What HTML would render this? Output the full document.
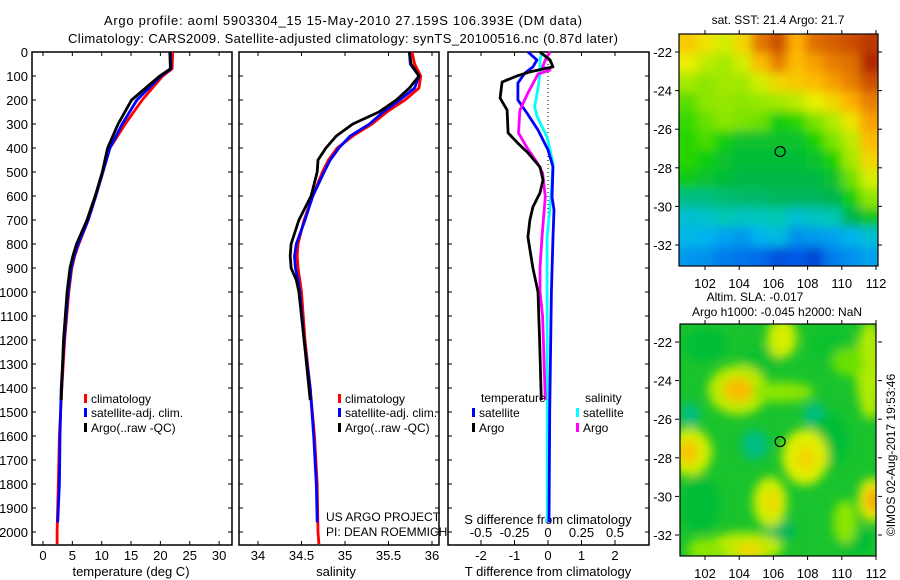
<!DOCTYPE html>
<html><head><meta charset="utf-8"><style>
body{margin:0;background:#fff;}
svg{display:block;font-family:"Liberation Sans",sans-serif;}
</style></head><body>
<svg id="s" width="900" height="580" viewBox="0 0 900 580" xmlns="http://www.w3.org/2000/svg">
<defs>
<filter id="bl1" x="-5%" y="-5%" width="110%" height="110%"><feGaussianBlur stdDeviation="5"/></filter>
<filter id="bl2" x="-20%" y="-20%" width="140%" height="140%"><feGaussianBlur stdDeviation="5"/></filter>
<clipPath id="c1"><rect x="679" y="34" width="199" height="232"/></clipPath>
<clipPath id="c2"><rect x="680" y="324" width="196" height="232"/></clipPath>
</defs>
<text x="343" y="25" text-anchor="middle" font-size="13" textLength="478">Argo profile: aoml 5903304_15 15-May-2010 27.159S 106.393E (DM data)</text>
<text x="343" y="43" text-anchor="middle" font-size="13" textLength="550">Climatology: CARS2009. Satellite-adjusted climatology: synTS_20100516.nc (0.87d later)</text>
<g id="g"></g>
</svg>
<script>
// ---- data ----
const depthTicks=[0,100,200,300,400,500,600,700,800,900,1000,1100,1200,1300,1400,1500,1600,1700,1800,1900,2000];
const tTicks=[0,5,10,15,20,25,30];
const sTicks=[34,34.5,35,35.5,36];
const sTickLabels=["34","34.5","35","35.5","36"];
const dTTicks=[-2,-1,0,1,2];
const dSTicks=[-0.5,-0.25,0,0.25,0.5];
const dSTickLabels=["-0.5","-0.25","0","0.25","0.5"];
// temperature
const tClimDepth=[0,70,100,200,300,400,500,600,700,800,850,900,1000,1200,1400,1600,1800,2000,2050];
const tClim=[22.1,22,20.4,16.9,14,11.4,10.2,9,7.7,6.1,5.4,4.9,4.4,3.7,3.2,2.8,2.6,2.4,2.4];
const tSatDepth=[0,70,100,200,300,400,500,600,700,800,850,900,1000,1200,1400,1600,1800,1960];
const tSat=[21.7,21.8,20.1,16,13.5,11.4,10.2,9,7.7,6,5.3,4.8,4.3,3.6,3.1,2.9,2.8,2.5];
const tArgoDepth=[0,70,100,200,300,400,500,600,700,800,850,900,1000,1200,1450];
const tArgo=[21.6,21.7,19.9,15.1,12.8,11,10.1,8.9,7.5,5.7,5.1,4.6,4.1,3.5,3.1];
// salinity
const sClimDepth=[0,50,100,150,200,250,300,350,400,450,500,600,700,800,850,900,950,1000,1200,1400,1600,1800,2000,2050];
const sClim=[35.77,35.8,35.87,35.85,35.69,35.48,35.31,35.09,34.91,34.81,34.74,34.63,34.53,34.46,34.45,34.46,34.48,34.5,34.54,34.6,34.65,34.68,34.69,34.7];
const sSatDepth=[0,50,100,150,200,250,300,350,400,450,500,600,700,800,850,900,950,1000,1200,1400,1600,1800,1960];
const sSat=[35.74,35.75,35.85,35.8,35.63,35.44,35.28,35.06,34.93,34.83,34.76,34.63,34.54,34.44,34.42,34.43,34.46,34.48,34.53,34.6,34.64,34.67,34.68];
const sArgoDepth=[0,50,100,150,200,250,300,350,400,450,500,600,700,800,850,900,950,1000,1200,1450];
const sArgo=[35.74,35.76,35.85,35.74,35.59,35.39,35.09,34.9,34.78,34.69,34.68,34.61,34.47,34.38,34.37,34.38,34.44,34.47,34.53,34.6];
// differences
const dTArgoDepth=[0,33,62,83,100,125,192,242,337,380,420,479,533,587,646,700,771,900,1000,1200,1450];
const dTArgo=[-0.24,0.06,0.15,-0.54,-0.93,-1.37,-1.43,-1.22,-1.19,-0.9,-0.6,-0.24,-0.15,-0.24,-0.45,-0.54,-0.6,-0.45,-0.3,-0.25,-0.2];
const dTSatDepth=[0,33,62,88,129,200,254,325,408,479,604,658,771,1000,1500,1960];
const dTSat=[-0.6,-0.33,-0.45,-0.69,-0.9,-0.9,-0.63,-0.3,0,0.15,0.12,0.18,0.15,0.1,0.05,0.03];
const dSArgoDepth=[0,33,62,75,92,171,242,337,396,462,504,604,771,900,1000,1100,1450];
const dSArgo=[0.015,-0.02,-0.04,0.015,-0.075,-0.15,-0.21,-0.22,-0.16,-0.08,-0.04,-0.02,-0.045,-0.06,-0.06,-0.04,-0.02];
const dSSatDepth=[0,33,88,150,229,270,354,462,533,646,771,1000,1500,1960];
const dSSat=[-0.045,-0.06,-0.06,-0.075,-0.1,-0.08,-0.007,0.037,0.03,0.015,-0.007,-0.007,-0.005,-0.005];
// map grids (normalized colour values)
const sstGrid=[
[.74,.70,.66,.72,.85,.90,.78,.86,.88,.90,.93],
[.68,.64,.62,.66,.76,.84,.76,.80,.84,.86,.95],
[.62,.60,.62,.62,.66,.72,.74,.76,.80,.84,.90],
[.57,.60,.61,.60,.61,.62,.64,.68,.72,.78,.84],
[.55,.58,.60,.59,.58,.52,.54,.59,.63,.70,.80],
[.54,.56,.52,.49,.49,.49,.49,.53,.59,.64,.76],
[.54,.52,.49,.48,.48,.48,.48,.49,.53,.62,.72],
[.51,.49,.48,.47,.47,.47,.47,.47,.49,.58,.66],
[.42,.42,.43,.44,.44,.45,.45,.45,.46,.52,.60],
[.34,.35,.38,.36,.37,.38,.34,.36,.38,.46,.50],
[.31,.30,.28,.27,.30,.32,.26,.27,.28,.30,.34],
[.27,.26,.24,.23,.22,.18,.20,.16,.24,.26,.28]];

// ---- drawing ----
const NS="http://www.w3.org/2000/svg";
const G=document.getElementById('g');
function el(tag,attrs,parent){const e=document.createElementNS(NS,tag);for(const k in attrs)e.setAttribute(k,attrs[k]);(parent||G).appendChild(e);return e;}
function txt(x,y,s,size,anchor,parent){const t=el('text',{x:x,y:y,'font-size':size,'text-anchor':anchor||'start'},parent);t.textContent=s;return t;}
const Y=d=>52+0.24*d;
const xT=v=>43+v*5.87;
const xS=v=>258+(v-34)*87;
const xDT=v=>548+v*33.5;
const xDS=v=>548+v*134;
const TOP=52,BOT=545;
const panels=[[32,232],[239,439],[448,649]];
panels.forEach((p,i)=>{
  const r=el('rect',{x:p[0],y:TOP,width:p[1]-p[0],height:BOT-TOP,fill:'none',stroke:'#000','stroke-width':1.5});
  
  
  depthTicks.forEach(d=>{
    el('line',{x1:p[0],x2:p[0]+4,y1:Y(d),y2:Y(d),stroke:'#000'});
    el('line',{x1:p[1],x2:p[1]-4,y1:Y(d),y2:Y(d),stroke:'#000'});
  });
});
depthTicks.forEach(d=>{
  const t=txt(28,Y(d)+5,String(d),13,'end');
  
  
});
function xTicks(vals,labels,fx,ly){
  vals.forEach((v,i)=>{
    const x=fx(v);
    el('line',{x1:x,x2:x,y1:BOT,y2:BOT-4,stroke:'#000'});
    el('line',{x1:x,x2:x,y1:TOP,y2:TOP+4,stroke:'#000'});
    const t=txt(x,ly,labels[i],13,'middle');
    
    
  });
}
xTicks(tTicks,tTicks.map(String),xT,560);
xTicks(sTicks,sTickLabels,xS,560);
xTicks(dTTicks,dTTicks.map(String),xDT,560);
dSTicks.forEach((v,i)=>{
  const x=xDS(v);
  el('line',{x1:x,x2:x,y1:540,y2:544,stroke:'#000'});
  const t=txt(x,537,dSTickLabels[i],13,'middle');
  
  
});
[['temperature (deg C)',131,576,'x-axis-title-temperature'],['salinity',336,576,'x-axis-title-salinity'],['T difference from climatology',548,576,'x-axis-title-t-diff'],['S difference from climatology',548,524,'axis-title-s-diff']].forEach(a=>{
  const t=txt(a[1],a[2],a[0],13,'middle');
  
  
});
// zero line
const zl=el('line',{x1:548,x2:548,y1:TOP,y2:310,stroke:'#000','stroke-dasharray':'1 3'});


function series(depths,vals,fx,color,name){
  const pts=depths.map((d,i)=>fx(vals[i]).toFixed(1)+','+Y(d).toFixed(1)).join(' ');
  const pl=el('polyline',{points:pts,fill:'none',stroke:color,'stroke-width':2.8,'stroke-linejoin':'round'});
  
  
}
series(tClimDepth,tClim,xT,'#ff0000','temperature-climatology-line');
series(tSatDepth,tSat,xT,'#0000ff','temperature-satellite-line');
series(tArgoDepth,tArgo,xT,'#000000','temperature-argo-line');
series(sClimDepth,sClim,xS,'#ff0000','salinity-climatology-line');
series(sSatDepth,sSat,xS,'#0000ff','salinity-satellite-line');
series(sArgoDepth,sArgo,xS,'#000000','salinity-argo-line');
series(dSSatDepth,dSSat,xDS,'#00ffff','s-diff-satellite-line');
series(dTSatDepth,dTSat,xDT,'#0000ff','t-diff-satellite-line');
series(dSArgoDepth,dSArgo,xDS,'#ff00ff','s-diff-argo-line');
series(dTArgoDepth,dTArgo,xDT,'#000000','t-diff-argo-line');
// legends
function legend(x,y,color,label,name){
  const b=el('rect',{x:x,y:y-8,width:3,height:9,fill:color});
  
  
  const t=txt(x+7,y+1,label,12);
  
  
}
legend(84,402,'#ff0000','climatology','legend-t-climatology');
legend(84,416,'#0000ff','satellite-adj. clim.','legend-t-satellite');
legend(84,431,'#000000','Argo(..raw -QC)','legend-t-argo');
legend(338,402,'#ff0000','climatology','legend-s-climatology');
legend(338,416,'#0000ff','satellite-adj. clim.','legend-s-satellite');
legend(338,431,'#000000','Argo(..raw -QC)','legend-s-argo');
let t1=txt(481,402,'temperature',12);
let t2=txt(585,402,'salinity',12);
legend(472,416,'#0000ff','satellite','legend-dt-satellite');
legend(472,431,'#000000','Argo','legend-dt-argo');
legend(576,416,'#00ffff','satellite','legend-ds-satellite');
legend(576,431,'#ff00ff','Argo','legend-ds-argo');
let p1=txt(326,521,'US ARGO PROJECT',12);
let p2=txt(326,536,'PI: DEAN ROEMMICH',12);

// ---- maps ----
const stops=[[0,[0,0,140]],[.2,[0,90,230]],[.3,[0,180,240]],[.38,[0,200,180]],[.46,[0,180,80]],[.53,[20,210,0]],[.6,[140,230,0]],[.68,[235,240,0]],[.78,[255,175,0]],[.88,[215,95,0]],[1,[150,0,0]]];
function cmap(v){for(let i=1;i<stops.length;i++){if(v<=stops[i][0]){const a=stops[i-1],b=stops[i],f=(v-a[0])/(b[0]-a[0]);return 'rgb('+a[1].map((c,k)=>Math.round(c+(b[1][k]-c)*f)).join(',')+')';}}return 'rgb(150,0,0)';}
const lonX1=l=>705+(l-102)*17.1;
const latY1=l=>52+(-22-l)*19.3;
const m1=el('g',{'clip-path':'url(#c1)'});


const m1i=el('g',{filter:'url(#bl1)'},m1);
const rows=sstGrid.length,cols=sstGrid[0].length;
const cw=199/cols,ch=232/rows;
sstGrid.forEach((row,r)=>row.forEach((v,c)=>{
  el('rect',{x:679+c*cw-(c==0?8:0),y:34+r*ch-(r==0?8:0),width:cw+1+(c==0||c==cols-1?8:0),height:ch+1+(r==0||r==rows-1?8:0),fill:cmap(v)},m1i);
}));
// map2 SLA
const m2=el('g',{'clip-path':'url(#c2)'});


el('rect',{x:680,y:324,width:196,height:232,fill:'rgb(25,195,45)'},m2);
const m2i=el('g',{filter:'url(#bl2)'},m2);
const blobs=[
[705,345,22,16,.48],[830,345,24,16,.49],[690,415,10,12,.42],[815,415,12,12,.42],[755,445,14,15,.42],[700,505,20,28,.48],[830,440,18,28,.48],[780,530,16,12,.45],[855,540,18,14,.48],[760,360,20,14,.49],
[738,390,30,25,.64],[782,392,32,10,.6],[782,338,15,20,.66],[870,370,14,50,.63],[848,362,16,14,.58],[690,452,22,24,.66],[805,457,23,28,.67],[770,502,17,25,.66],[872,500,14,22,.69],[845,522,12,22,.6],[745,547,38,15,.64],[705,550,18,12,.6],
[738,390,15,12,.76],[688,452,10,12,.75],[806,458,10,12,.72],[873,500,7,12,.8],[750,550,14,7,.72],[772,502,7,10,.72]];
blobs.forEach(b=>{el('ellipse',{cx:b[0],cy:b[1],rx:b[2],ry:b[3],fill:cmap(b[4])},m2i);});
[[679,34,199,232,'sst-map-frame'],[680,324,196,232,'sla-map-frame']].forEach(f=>{
  const r=el('rect',{x:f[0],y:f[1],width:f[2],height:f[3],fill:'none',stroke:'#000','stroke-width':1.2});
  
  
});
// map markers
const c1=el('circle',{cx:lonX1(106.393),cy:latY1(-27.159),r:5,fill:'none',stroke:'#000','stroke-width':1.2});


const c2=el('circle',{cx:lonX1(106.393),cy:latY1(-27.159)+290,r:5,fill:'none',stroke:'#000','stroke-width':1.2});


const lons=[102,104,106,108,110,112];
const lats=[-22,-24,-26,-28,-30,-32];
[0,290].forEach(off=>{
  lons.forEach(l=>{
    const x=lonX1(l);
    el('line',{x1:x,x2:x,y1:266+off,y2:270+off,stroke:'#000'});
    el('line',{x1:x,x2:x,y1:34+off,y2:30+off,stroke:'#000'});
    const t=txt(x,288+off,String(l),13,'middle');
    
    
  });
  lats.forEach(l=>{
    const y=latY1(l)+off;
    el('line',{x1:679,x2:675,y1:y,y2:y,stroke:'#000'});
    el('line',{x1:878,x2:882,y1:y,y2:y,stroke:'#000'});
    const t=txt(672,y+5,String(l),13,'end');
    
    
  });
});
let mt=txt(778,24,'sat. SST: 21.4 Argo: 21.7',12,'middle');
let mt2=txt(755,301,'Altim. SLA: -0.017',12,'middle');
let mt3=txt(777,316,'Argo h1000: -0.045 h2000: NaN',12,'middle');
let cr=txt(0,0,'©IMOS 02-Aug-2017 19:53:46',12,'middle');
cr.setAttribute('transform','translate(895,455) rotate(-90)');


</script>
</body></html>
